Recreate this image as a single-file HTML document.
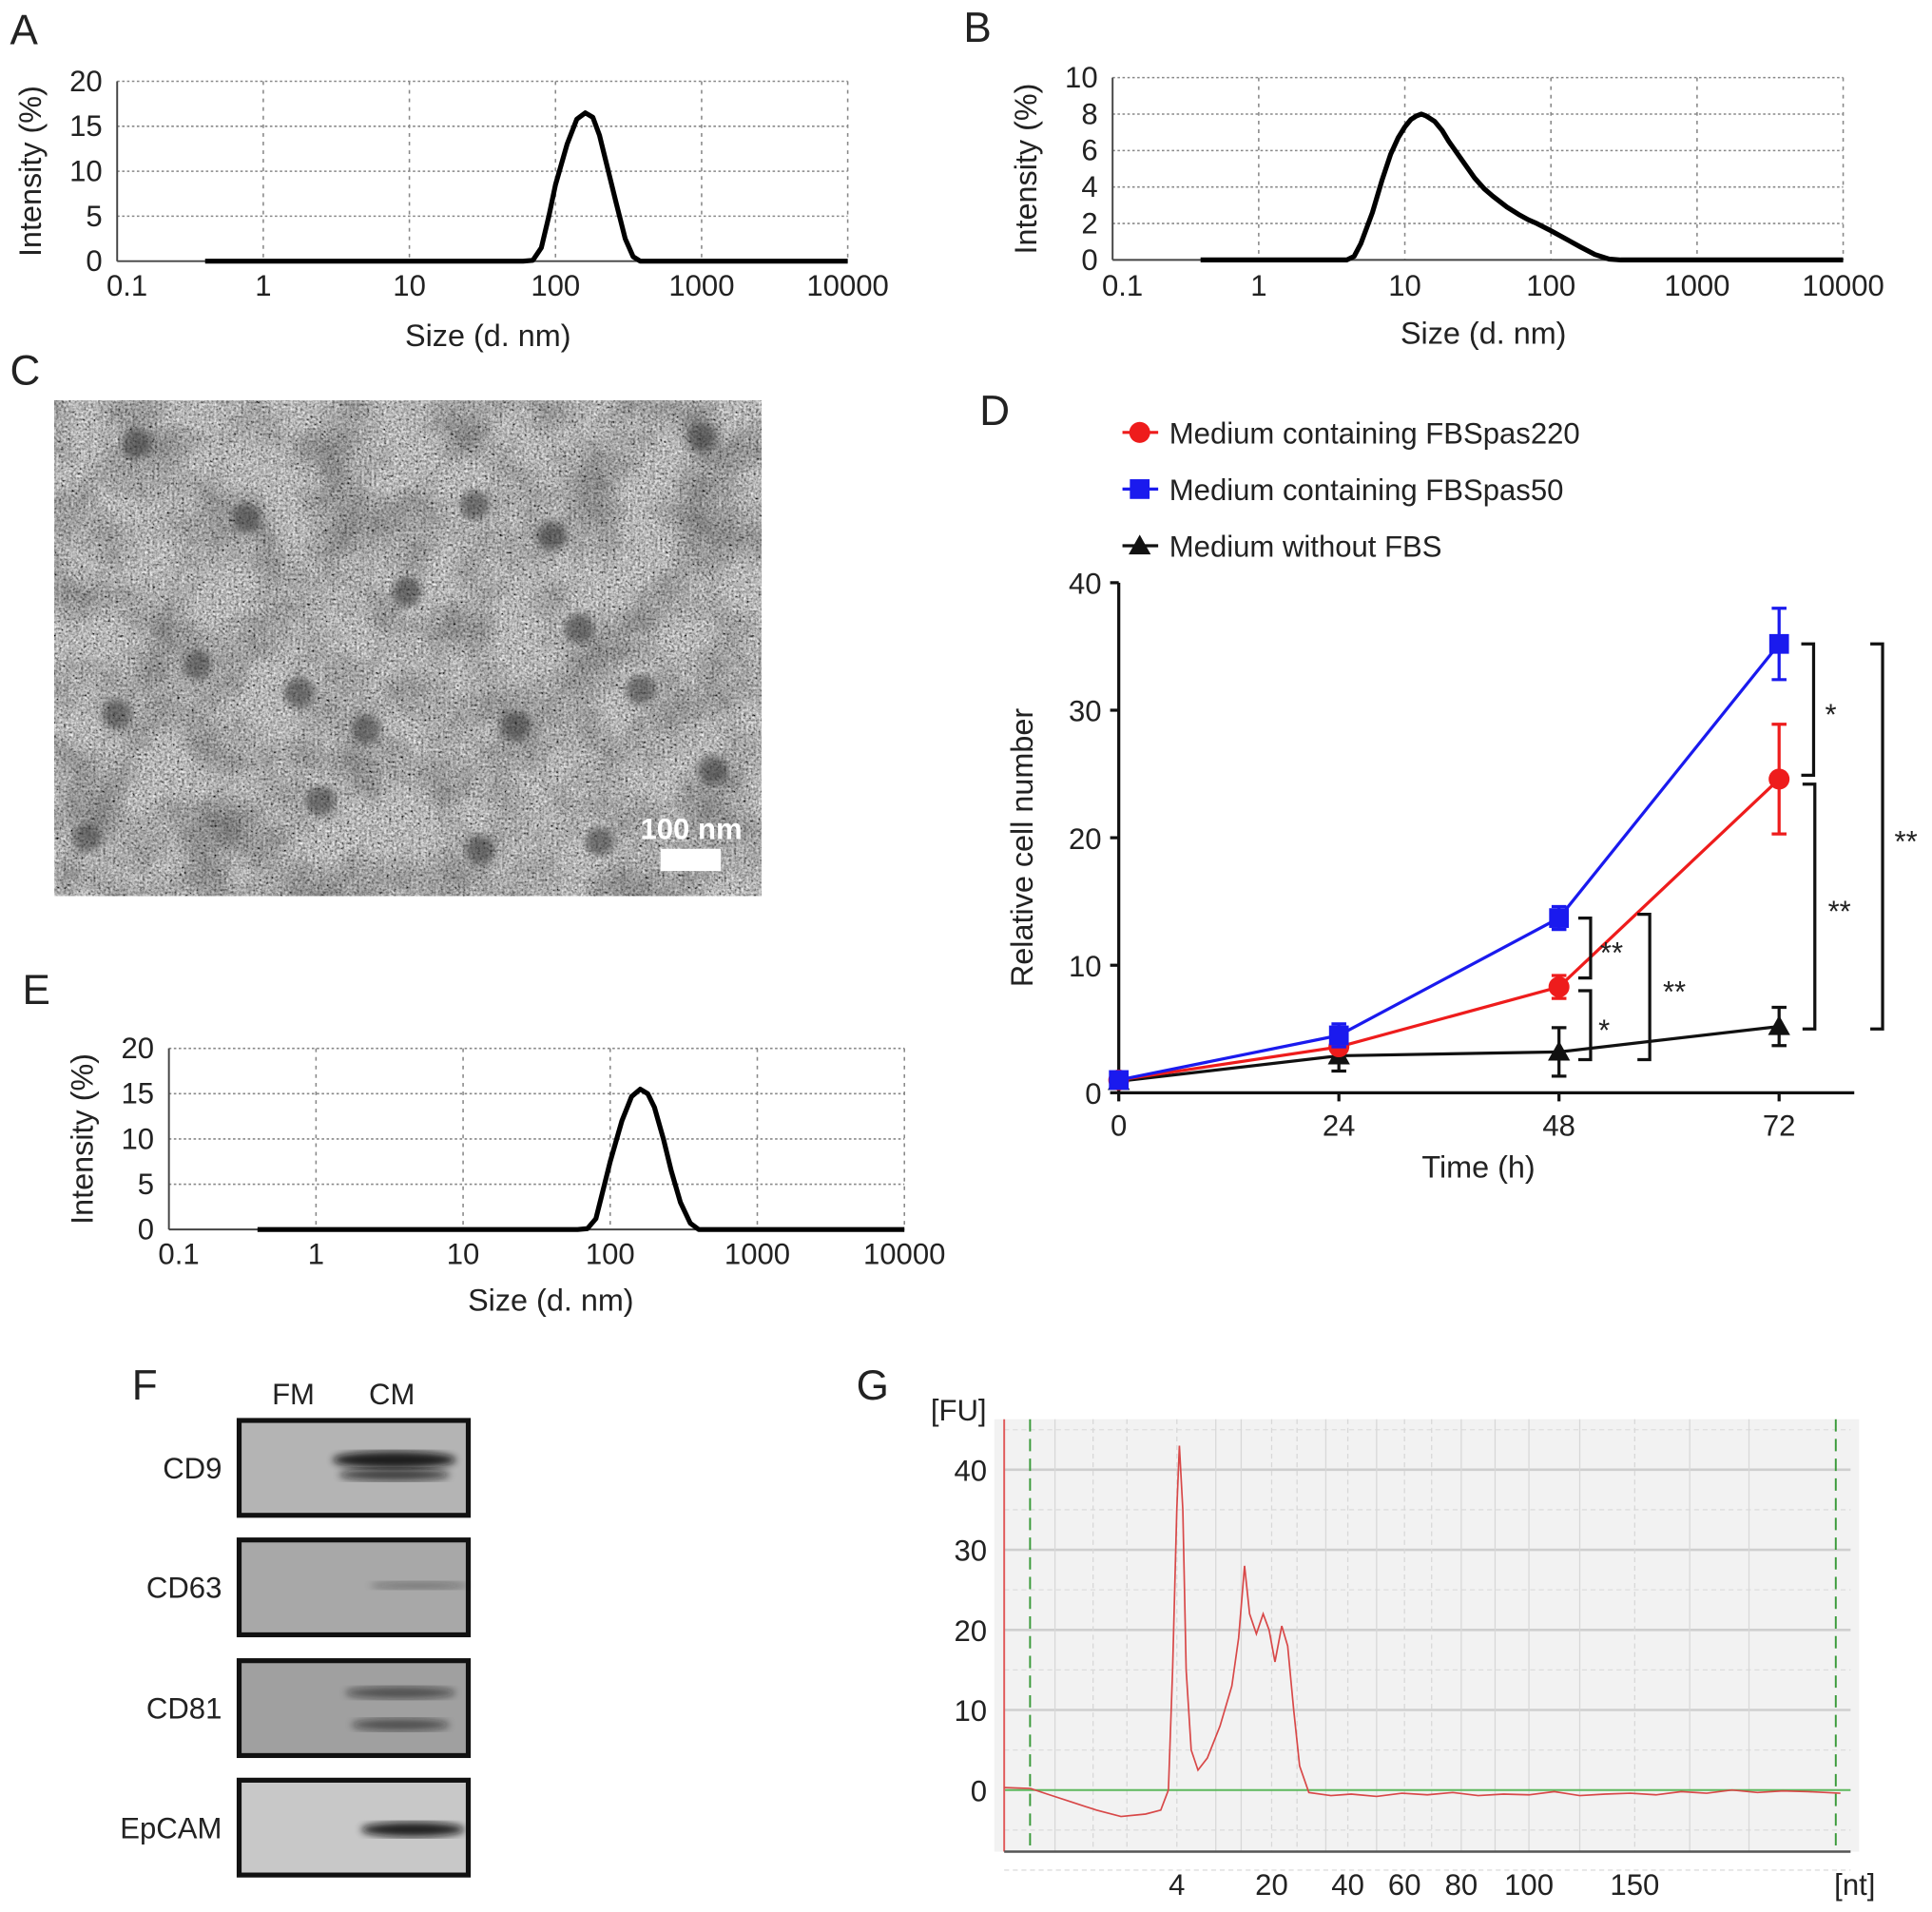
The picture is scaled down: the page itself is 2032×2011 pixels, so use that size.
<!DOCTYPE html>
<html><head><meta charset="utf-8">
<style>
html,body{margin:0;padding:0;background:#fff;}
svg{display:block;}
text{font-family:"Liberation Sans",sans-serif;fill:#222;}
.nar{font-family:"Liberation Sans Narrow","Liberation Sans",sans-serif;}
</style></head>
<body>
<svg id="fig" xmlns="http://www.w3.org/2000/svg" width="2032" height="2011" viewBox="0 0 1568 1552">
<defs>
<filter id="tem" x="0" y="0" width="100%" height="100%">
<feTurbulence type="fractalNoise" baseFrequency="0.5" numOctaves="2" seed="3" result="n"/>
<feColorMatrix type="matrix" values="0.33 0.33 0.33 0 0  0.33 0.33 0.33 0 0  0.33 0.33 0.33 0 0  0 0 0 0 1" in="n" result="g"/>
<feComponentTransfer in="g"><feFuncR type="linear" slope="2.2" intercept="-0.6"/><feFuncG type="linear" slope="2.2" intercept="-0.6"/><feFuncB type="linear" slope="2.2" intercept="-0.6"/></feComponentTransfer>
</filter>
<filter id="mottle" x="0" y="0" width="100%" height="100%">
<feTurbulence type="fractalNoise" baseFrequency="0.02" numOctaves="3" seed="7" result="n"/>
<feColorMatrix type="matrix" values="0 0 0 0 0  0 0 0 0 0  0 0 0 0 0  1.2 0 0 0 -0.45"/>
</filter>
<filter id="blur3"><feGaussianBlur stdDeviation="3"/></filter>
<filter id="blur8"><feGaussianBlur stdDeviation="8"/></filter>
</defs>
<g id="root"></g>
</svg>
<script>
// ---- DLS data ----
const dlsA_size=[0.4,1,10,60,70,80,90,100,120,140,160,180,200,230,260,300,340,380,1000,10000];
const dlsA_int=[0,0,0,0,0.1,1.5,5,8.5,13,15.8,16.5,16,14,10,6.5,2.5,0.5,0,0,0];
const dlsB_size=[0.4,1,3.5,4,4.5,5,6,7,8,9,10,11,12,13,14,16,18,20,25,30,35,40,50,60,70,80,100,130,160,200,250,300,1000,10000];
const dlsB_int=[0,0,0,0,0.2,0.9,2.6,4.4,5.8,6.7,7.3,7.7,7.9,8.0,7.9,7.6,7.1,6.5,5.4,4.5,3.9,3.5,2.9,2.5,2.2,2.0,1.6,1.1,0.7,0.3,0.05,0,0,0];
const dlsE_size=[0.4,1,10,60,70,80,90,100,120,140,160,180,200,230,260,300,350,400,1000,10000];
const dlsE_int=[0,0,0,0,0.1,1.2,4.5,7.5,12,14.7,15.5,15,13.5,10,6.5,3,0.7,0,0,0];
const dlsXTicks=[0.1,1,10,100,1000,10000];
const dlsXLabels=["0.1","1","10","100","1000","10000"];
// ---- growth data (panel D) ----
const timeH=[0,24,48,72];
const timeLabels=["0","24","48","72"];
const yTicksD=[0,10,20,30,40];
const red220=[1.0,3.6,8.3,24.6];
const red220Err=[0.2,0.3,0.9,4.3];
const blue50=[1.0,4.5,13.7,35.2];
const blue50Err=[0.3,0.9,0.9,2.8];
const blackNo=[0.9,2.9,3.2,5.2];
const blackNoErr=[0.2,1.2,1.9,1.5];
// ---- electropherogram (panel G) ----
const fuTime=[0,3.1,5.1,8.0,10.9,13.8,16.7,18.5,19.4,19.9,20.4,20.7,21.1,21.5,22.1,22.9,24.0,25.5,26.9,27.7,28.4,29.0,29.8,30.6,31.3,32.0,32.8,33.5,34.2,34.9,36.0,38.6,41,44,47,50,53,56,59,62,65,68,71,74,77,80,83,86,89,92,95,98.8];
const fuVal=[0.3,0.2,-0.5,-1.5,-2.5,-3.3,-3.0,-2.5,0,15,35,43,35,15,5,2.5,4,8,13,19,28,22,19.5,22,20,16,20.5,18,10,3,-0.3,-0.7,-0.5,-0.8,-0.4,-0.6,-0.3,-0.7,-0.5,-0.6,-0.2,-0.7,-0.5,-0.4,-0.6,-0.2,-0.4,0,-0.3,-0.1,-0.2,-0.4];
const fuYTicks=[0,10,20,30,40];
const ntLabels=["4","20","40","60","80","100","150","[nt]"];
const ntPos=[20.4,31.6,40.6,47.3,54.0,62.0,74.5,100.5];

const NS="http://www.w3.org/2000/svg";
const root=document.getElementById('root');
function el(tag,attrs,parent,txt){const e=document.createElementNS(NS,tag);for(const k in attrs)e.setAttribute(k,attrs[k]);if(txt!==undefined)e.textContent=txt;(parent||root).appendChild(e);return e;}

function dlsPanel(name,letter,lx,ly,px,py,pw,ph,ymax,ystep,sizes,ints,titleX,titleY,tickLY){
  const g=el('g',{});
  
  
  const lt=el('text',{x:lx,y:ly,'font-size':34},g,letter);
  
  
  const xs=v=>px+(Math.log10(v)+1)/5*pw;
  const ys=v=>py+ph-v/ymax*ph;
  for(let v=0;v<=ymax;v+=ystep){
    if(v>0){const gl=el('line',{x1:px,x2:px+pw,y1:ys(v),y2:ys(v),stroke:'#888','stroke-width':1.2,'stroke-dasharray':'2,2'},g);
      }
    const t=el('text',{x:px-12,y:ys(v)+8,'font-size':24,'text-anchor':'end',class:'nar'},g,String(v));
    
  }
  dlsXTicks.forEach((v,i)=>{
    if(i>0){const gl=el('line',{x1:xs(v),x2:xs(v),y1:py,y2:py+ph,stroke:'#888','stroke-width':1.2,'stroke-dasharray':'3,4'},g);
      }
    const t=el('text',{x:xs(v)+(i==0?8:0),y:tickLY,'font-size':24,'text-anchor':'middle',class:'nar'},g,dlsXLabels[i]);
    
  });
  el('line',{x1:px,x2:px,y1:py,y2:py+ph,stroke:'#444','stroke-width':1.5},g);
  el('line',{x1:px,x2:px+pw,y1:py+ph,y2:py+ph,stroke:'#444','stroke-width':1.5},g);
  const d=sizes.map((s,i)=>(i?'L':'M')+xs(s).toFixed(1)+','+ys(ints[i]).toFixed(1)).join('');
  const c=el('path',{d:d,fill:'none',stroke:'#000','stroke-width':4,'stroke-linejoin':'round'},g);
  
  const xt=el('text',{x:titleX,y:titleY,'font-size':25,'text-anchor':'middle',class:'nar'},g,'Size (d. nm)');
  
  const yt=el('text',{x:0,y:0,'font-size':25,'text-anchor':'middle',class:'nar',transform:`translate(${px-62},${py+ph/2}) rotate(-90)`},g,'Intensity (%)');
  
}
dlsPanel('panel-a-dls','A',8,36,95,66,593,146,20,5,dlsA_size,dlsA_int,396,281,240);
dlsPanel('panel-b-dls','B',782,34,903,63,593,148,10,2,dlsB_size,dlsB_int,1204,279,240);
dlsPanel('panel-e-dls','E',18,815,137,851,597,147,20,5,dlsE_size,dlsE_int,447,1064,1026);

// ---- Panel C TEM ----
(function(){
  const g=el('g',{});
  
  const lt=el('text',{x:8,y:312,'font-size':34},g,'C');
  
  el('rect',{x:44,y:325,width:574,height:402,fill:'#808080'},g);
  el('rect',{x:44,y:325,width:574,height:402,filter:'url(#tem)',opacity:0.95},g);
  el('rect',{x:44,y:325,width:574,height:402,filter:'url(#mottle)',opacity:0.5},g);
  const blobs=[[570,355],[385,410],[448,435],[95,580],[243,563],[297,592],[418,590],[578,625],[487,683],[390,690],[160,540],[520,560],[330,480],[70,680],[110,360],[200,420],[260,650],[470,510]];
  blobs.forEach(b=>el('circle',{cx:b[0],cy:b[1],r:12,fill:'#333',opacity:0.55,filter:'url(#blur3)'},g));
  const sb=el('text',{x:561,y:681,'font-size':24,'font-weight':'bold','text-anchor':'middle',style:'fill:#fff'},g,'100 nm');
  
  const bar=el('rect',{x:536,y:689,width:49,height:18,fill:'#fff'},g);
  
})();

// ---- Panel D ----
(function(){
  const g=el('g',{});
  
  const lt=el('text',{x:795,y:345,'font-size':34},g,'D');
  
  const x0=908,x1=1505,yb=887,yt=473;
  const xs=h=>x0+h*(1444-x0)/72;
  const ys=v=>yb-v*(yb-yt)/40;
  el('line',{x1:x0,x2:x0,y1:yt,y2:yb,stroke:'#111','stroke-width':2.5},g);
  el('line',{x1:x0,x2:x1,y1:yb,y2:yb,stroke:'#111','stroke-width':2.5},g);
  yTicksD.forEach(v=>{
    el('line',{x1:x0-7,x2:x0,y1:ys(v),y2:ys(v),stroke:'#111','stroke-width':2.5},g);
    const t=el('text',{x:x0-14,y:ys(v)+9,'font-size':24,'text-anchor':'end'},g,String(v));
    
  });
  timeH.forEach((h,i)=>{
    el('line',{x1:xs(h),x2:xs(h),y1:yb,y2:yb+7,stroke:'#111','stroke-width':2.5},g);
    const t=el('text',{x:xs(h),y:922,'font-size':24,'text-anchor':'middle'},g,timeLabels[i]);
    
  });
  const xt=el('text',{x:1200,y:956,'font-size':25,'text-anchor':'middle'},g,'Time (h)');
  
  const yl=el('text',{x:0,y:0,'font-size':25,'text-anchor':'middle',transform:'translate(838,688) rotate(-90)'},g,'Relative cell number');
  
  function marker(shape,x,y,color,gg){
    if(shape==='circle')return el('circle',{cx:x,cy:y,r:8.5,fill:color},gg);
    if(shape==='square')return el('rect',{x:x-8,y:y-8,width:16,height:16,fill:color},gg);
    return el('polygon',{points:`${x},${y-9} ${x+9},${y+7} ${x-9},${y+7}`,fill:color},gg);
  }
  const series=[[blackNo,blackNoErr,'#111','triangle','series-medium-without-fbs'],[red220,red220Err,'#ee1c1c','circle','series-fbspas220'],[blue50,blue50Err,'#1a1aee','square','series-fbspas50']];
  series.forEach(s=>{
    const sg=el('g',{},g);
    
    el('path',{d:s[0].map((v,i)=>(i?'L':'M')+xs(timeH[i])+','+ys(v)).join(''),fill:'none',stroke:s[2],'stroke-width':2.5},sg);
    s[0].forEach((v,i)=>{
      const x=xs(timeH[i]);
      el('path',{d:`M${x},${ys(v-s[1][i])}L${x},${ys(v+s[1][i])}M${x-6},${ys(v-s[1][i])}L${x+6},${ys(v-s[1][i])}M${x-6},${ys(v+s[1][i])}L${x+6},${ys(v+s[1][i])}`,stroke:s[2],'stroke-width':2.5,fill:'none'},sg);
      const m=marker(s[3],x,ys(v),s[2],sg);
      
    });
  });
  function bracket(x,v1,v2,label,dx){
    const bg=el('g',{},g);
    
    el('path',{d:`M${x-10},${ys(v1)}L${x},${ys(v1)}L${x},${ys(v2)}L${x-10},${ys(v2)}`,fill:'none',stroke:'#111','stroke-width':2.5},bg);
    el('text',{x:x+dx,y:(ys(v1)+ys(v2))/2+12,'font-size':24,'text-anchor':'middle'},bg,label);
  }
  bracket(1472,35.2,24.9,'*',14);
  bracket(1473,24.2,5.0,'**',20);
  bracket(1528,35.2,5.0,'**',19);
  bracket(1291,13.7,9.0,'**',17);
  bracket(1291,8.0,2.6,'*',11);
  bracket(1339,14.0,2.6,'**',20);
  const legend=[['circle','#ee1c1c','Medium containing FBSpas220',351],['square','#1a1aee','Medium containing FBSpas50',397],['triangle','#111','Medium without FBS',443]];
  legend.forEach(l=>{
    const lg=el('g',{},g);
    
    el('line',{x1:911,x2:940,y1:l[3],y2:l[3],stroke:l[1],'stroke-width':2.5},lg);
    marker(l[0],925,l[3],l[1],lg);
    el('text',{x:949,y:l[3]+9,'font-size':24},lg,l[2]);
  });
})();

// ---- Panel F Western blots ----
(function(){
  const g=el('g',{});
  
  const lt=el('text',{x:107,y:1136,'font-size':34},g,'F');
  
  const a=el('text',{x:238,y:1140,'font-size':24,'text-anchor':'middle'},g,'FM');
  const b=el('text',{x:318,y:1140,'font-size':24,'text-anchor':'middle'},g,'CM');
  const blots=[['CD9',1151,'#b4b4b4',[[320,1185,50,7,0.9],[320,1197,45,5,0.7]]],['CD63',1248,'#a8a8a8',[[340,1287,40,3,0.35]]],['CD81',1346,'#a0a0a0',[[325,1374,45,5,0.55],[325,1400,40,5,0.55]]],['EpCAM',1443,'#c8c8c8',[[335,1485,42,6,0.9]]]];
  blots.forEach(bl=>{
    const bg=el('g',{},g);
    
    el('rect',{x:194,y:bl[1]+2,width:186,height:77,fill:bl[2],stroke:'#111','stroke-width':4},bg);
    bl[3].forEach(e=>el('ellipse',{cx:e[0],cy:e[1],rx:e[2],ry:e[3],fill:'#111',opacity:e[4],filter:'url(#blur3)'},bg));
    el('text',{x:180,y:bl[1]+49,'font-size':24,'text-anchor':'end'},bg,bl[0]);
  });
})();

// ---- Panel G electropherogram ----
(function(){
  const g=el('g',{});
  
  const lt=el('text',{x:695,y:1136,'font-size':34},g,'G');
  
  const px=815,pw=687,top=1152,bot=1503;
  const xs=t=>px+t/100*pw;
  const ys=v=>1453-v*6.5;
  el('rect',{x:px-8,y:top,width:pw+15,height:bot-top,fill:'#f2f2f2'},g);
  [-10,-5,5,15,25,35,45].forEach(v=>el('line',{x1:px,x2:px+pw,y1:ys(v),y2:ys(v),stroke:'#ddd','stroke-width':1,'stroke-dasharray':'4,3'},g));
  fuYTicks.forEach(v=>{
    if(v>0)el('line',{x1:px,x2:px+pw,y1:ys(v),y2:ys(v),stroke:'#cfcfcf','stroke-width':2},g);
    const t=el('text',{x:801,y:ys(v)+9,'font-size':24,'text-anchor':'end',class:'nar'},g,String(v));
    
  });
  [6,10.5,14.5,20.4,25,28,31.6,34.6,38,40.6,44,47.3,50.5,54,58,62,68,74.5,81,88].forEach(t=>el('line',{x1:xs(t),x2:xs(t),y1:top,y2:bot,stroke:'#d8d8d8','stroke-width':1,'stroke-dasharray':t%1?'4,3':'none'},g));
  el('line',{x1:px,x2:px+pw,y1:ys(0),y2:ys(0),stroke:'#5cb85c','stroke-width':1.5},g);
  el('line',{x1:836,x2:836,y1:top,y2:bot,stroke:'#3a9a3a','stroke-width':1.5,'stroke-dasharray':'10,6'},g);
  el('line',{x1:1490,x2:1490,y1:top,y2:bot,stroke:'#3a9a3a','stroke-width':1.5,'stroke-dasharray':'10,6'},g);
  el('line',{x1:px,x2:px,y1:top,y2:bot,stroke:'#e05a5a','stroke-width':1.5},g);
  el('line',{x1:px,x2:px+pw,y1:bot,y2:bot,stroke:'#555','stroke-width':2},g);
  const tr=el('path',{d:fuTime.map((t,i)=>(i?'L':'M')+xs(t).toFixed(1)+','+ys(fuVal[i]).toFixed(1)).join(''),fill:'none',stroke:'#d84848','stroke-width':1.3},g);
  
  const fu=el('text',{x:778,y:1153,'font-size':24,'text-anchor':'middle',class:'nar'},g,'[FU]');
  
  ntLabels.forEach((l,i)=>{
    const t=el('text',{x:xs(ntPos[i]),y:1538,'font-size':24,'text-anchor':'middle',class:'nar'},g,l);
    
  });
})();
</script>
</body></html>
